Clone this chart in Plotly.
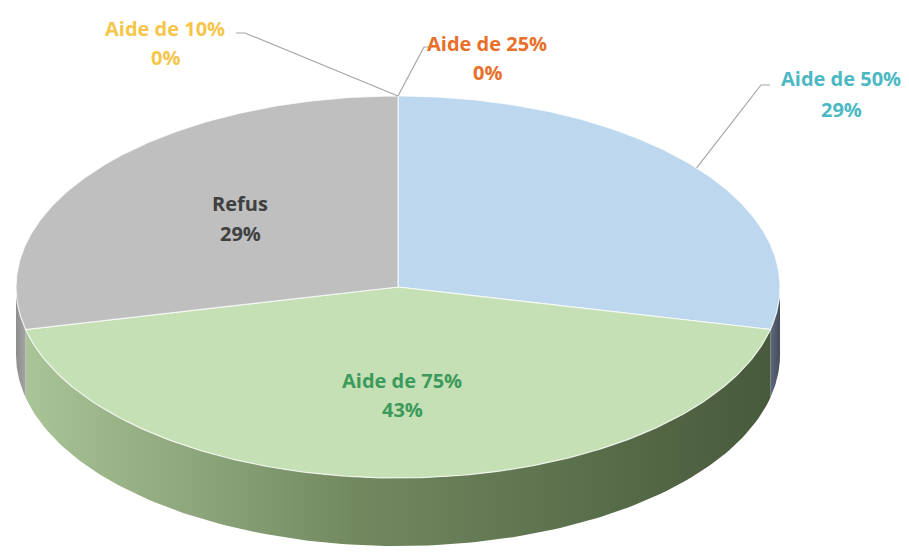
import numpy as np
import plotly.graph_objects as go

# ---- data ----
categories = ["Aide de 10%", "Aide de 25%", "Aide de 50%", "Aide de 75%", "Refus"]
values = [0, 0, 2, 3, 2]
pct_labels = ["0%", "0%", "29%", "43%", "29%"]
top_colors = ["#FFC000", "#ED7D31", "#BDD7EE", "#C5E0B4", "#BFBFBF"]
label_colors = ["#F5C64A", "#E8702A", "#4CB9C2", "#3C9A5C", "#404040"]
side_scales = [
    [[0, "#c9a030"], [1, "#a07f20"]],
    [[0, "#c0622a"], [1, "#96491d"]],
    [[0, "#5d6a7c"], [1, "#444d5a"]],
    [[0, "#a9c497"], [0.45, "#71885f"], [1, "#475a3b"]],
    [[0, "#8e8e8e"], [1, "#a3a3a3"]],
]

# ---- geometry of the tilted pie (pixel space) ----
W, H = 909, 553
OFF = 8  # page body margin
cx, cy, a, b, depth = 398, 287, 382, 191, 68


def pt(theta_deg, dy=0.0):
    t = np.radians(theta_deg)
    return cx + a * np.sin(t), cy - b * np.cos(t) + dy


total = float(sum(values))
starts, ends = [], []
acc = 0.0
for v in values:
    starts.append(acc / total * 360)
    acc += v
    ends.append(acc / total * 360)

fig = go.Figure()

# side walls (front half: 90..270 deg)
for i, (s, e) in enumerate(zip(starts, ends)):
    lo, hi = max(s, 90), min(e, 270)
    if hi <= lo:
        continue
    th = np.linspace(lo, hi, 120)
    xt, yt = pt(th)
    xb, yb = pt(th[::-1], depth)
    xs = np.concatenate([xt, xb, xt[:1]])
    ys = np.concatenate([yt, yb, yt[:1]])
    fig.add_trace(go.Scatter(
        x=xs, y=ys, mode="lines", fill="toself",
        line=dict(width=0, color="rgba(0,0,0,0)"),
        fillgradient=dict(type="horizontal", colorscale=side_scales[i]),
        hoverinfo="skip", showlegend=False))

# top faces
for i, (s, e) in enumerate(zip(starts, ends)):
    if e - s <= 0:
        continue
    th = np.linspace(s, e, 200)
    xa, ya = pt(th)
    xs = np.concatenate([[cx], xa, [cx]])
    ys = np.concatenate([[cy], ya, [cy]])
    fig.add_trace(go.Scatter(
        x=xs, y=ys, mode="lines", fill="toself", fillcolor=top_colors[i],
        line=dict(width=1.2, color="rgba(255,255,255,0.75)"),
        hoverinfo="skip", showlegend=False))

# ---- labels & leader lines ----
label_pos = {
    0: (165, 28, 57),
    1: (487, 43, 72),
    2: (841, 78, 109),
    3: (402, 380, 409),
    4: (240, 203, 233),
}
leader_paths = {
    0: [(236, 33), (245, 33)],
    1: [(433, 47), (424, 47)],
    2: [(770, 85), (761, 85)],
}
for i, (lx, y1, y2) in label_pos.items():
    fnt = dict(family="Open Sans", size=20, color=label_colors[i])
    fig.add_annotation(x=lx, y=y1, text="<b>%s</b>" % categories[i],
                       showarrow=False, font=fnt, xanchor="center", yanchor="middle")
    fig.add_annotation(x=lx, y=y2, text="<b>%s</b>" % pct_labels[i],
                       showarrow=False, font=fnt, xanchor="center", yanchor="middle")

for i, path in leader_paths.items():
    mid = (starts[i] + ends[i]) / 2
    ex, ey = pt(mid)
    xs = [p[0] for p in path] + [ex]
    ys = [p[1] for p in path] + [ey]
    fig.add_trace(go.Scatter(x=xs, y=ys, mode="lines",
                             line=dict(color="#A6A6A6", width=1.2),
                             hoverinfo="skip", showlegend=False))

fig.update_layout(
    width=W, height=H,
    margin=dict(l=0, r=0, t=0, b=0),
    paper_bgcolor="white", plot_bgcolor="white",
    xaxis=dict(range=[OFF, W + OFF], visible=False, fixedrange=True),
    yaxis=dict(range=[H + OFF, OFF], visible=False, fixedrange=True),
    showlegend=False,
)

fig.write_html("out.html")
